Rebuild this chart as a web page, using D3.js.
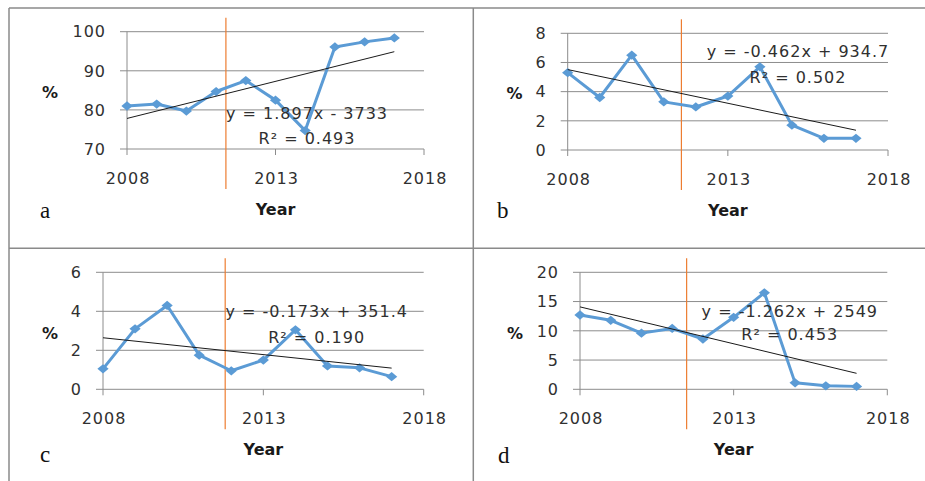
<!DOCTYPE html>
<html>
<head>
<meta charset="utf-8">
<script src="https://cdn.jsdelivr.net/npm/d3@7"></script>
<style>
  html, body { margin: 0; padding: 0; background: #fff; }
  svg { display: block; }
  .tick-label { font-family: "DejaVu Sans", sans-serif; font-size: 16px; letter-spacing: 1px; fill: #303030; }
  .eq { font-family: "DejaVu Sans", sans-serif; font-size: 16px; letter-spacing: 1px; fill: #303030; }
  .axis-title { font-family: "DejaVu Sans", sans-serif; font-size: 16px; font-weight: bold; fill: #1a1a1a; }
  .panel-letter { font-family: "Liberation Serif", "Times New Roman", serif; font-size: 23px; fill: #111; }
</style>
</head>
<body>
<svg id="chart" width="925" height="481"></svg>
<script>
// Years observed in every panel
const years = [2008, 2009, 2010, 2011, 2012, 2013, 2014, 2015, 2016, 2017];
const xTicks = [2008, 2013, 2018];

// Series values (%) per panel
const valuesA = [81.0, 81.5, 79.7, 84.7, 87.5, 82.5, 74.7, 96.1, 97.4, 98.4];
const valuesB = [5.3, 3.6, 6.5, 3.3, 2.95, 3.7, 5.7, 1.7, 0.8, 0.8];
const valuesC = [1.05, 3.1, 4.3, 1.75, 0.95, 1.5, 3.05, 1.2, 1.1, 0.65];
const valuesD = [12.7, 11.8, 9.6, 10.4, 8.6, 12.3, 16.5, 1.1, 0.6, 0.5];

// Y-axis ticks per panel
const yTicksA = [70, 80, 90, 100];
const yTicksB = [0, 2, 4, 6, 8];
const yTicksC = [0, 2, 4, 6];
const yTicksD = [0, 5, 10, 15, 20];

// Linear trend: slope and intercept as printed, with R²
const slopes = [1.897, -0.462, -0.173, -1.262];
const intercepts = ["- 3733", "+ 934.7", "+ 351.4", "+ 2549"];
const r2 = ["0.493", "0.502", "0.190", "0.453"];

// Year where the vertical marker line sits in each panel
const breakYears = [2011.33, 2011.55, 2011.81, 2011.47];

const panelLetters = ["a", "b", "c", "d"];

// Pixel layout of each panel
const layout = [
  { x0: 127, x1: 424, yBot: 149, yTop: 31.7, pctX: 50, pctY: 92, letX: 40, letY: 218, eqX: 307, eqY: 119, eqY2: 144 },
  { x0: 567.7, x1: 888, yBot: 150, yTop: 33.3, pctX: 514.5, pctY: 93, letX: 497, letY: 218, eqX: 798, eqY: 57.3, eqY2: 82.7 },
  { x0: 103, x1: 423.7, yBot: 389.3, yTop: 272.3, pctX: 50, pctY: 333, letX: 40, letY: 462, eqX: 316.7, eqY: 317.3, eqY2: 342.7 },
  { x0: 580, x1: 887.3, yBot: 389.3, yTop: 272.3, pctX: 515, pctY: 333, letX: 498, letY: 463, eqX: 789.8, eqY: 317.3, eqY2: 340 }
];

const seriesList = [valuesA, valuesB, valuesC, valuesD];
const yTickList = [yTicksA, yTicksB, yTicksC, yTicksD];

const svg = d3.select("#chart");
const gridColor = "#8c8c8c";
const blue = "#5B9BD5";
const orange = "#ED7D31";

// Outer frame dividing the four panels
const frame = svg.append("g").attr("stroke", "#8a8a8a").attr("stroke-width", 1.5).attr("fill", "none");
frame.append("line").attr("x1", 9).attr("x2", 925).attr("y1", 8).attr("y2", 8);
frame.append("line").attr("x1", 9).attr("x2", 9).attr("y1", 8).attr("y2", 481);
frame.append("line").attr("x1", 473.3).attr("x2", 473.3).attr("y1", 8).attr("y2", 481);
frame.append("line").attr("x1", 9).attr("x2", 925).attr("y1", 248.3).attr("y2", 248.3);

// Slightly wide diamond marker
const wideDiamond = {
  draw(ctx, size) {
    const w = Math.sqrt(size) * 0.75, h = Math.sqrt(size) * 0.62;
    ctx.moveTo(0, -h); ctx.lineTo(w, 0); ctx.lineTo(0, h); ctx.lineTo(-w, 0); ctx.closePath();
  }
};
const diamond = d3.symbol().type(wideDiamond).size(56);

layout.forEach((L, i) => {
  const vals = seriesList[i];
  const yt = yTickList[i];
  const x = d3.scaleLinear().domain([2008, 2018]).range([L.x0, L.x1]);
  const y = d3.scaleLinear().domain([yt[0], yt[yt.length - 1]]).range([L.yBot, L.yTop]);
  const g = svg.append("g");

  // Horizontal gridlines with left tick stubs
  g.selectAll("line.grid").data(yt).join("line")
    .attr("x1", L.x0 - 7).attr("x2", x(2018))
    .attr("y1", d => y(d)).attr("y2", d => y(d))
    .attr("stroke", gridColor).attr("stroke-width", 1);

  // Vertical value axis at 2008, reaching just below the year axis
  g.append("line")
    .attr("x1", x(2008)).attr("x2", x(2008))
    .attr("y1", y(yt[yt.length - 1])).attr("y2", L.yBot + 6)
    .attr("stroke", gridColor).attr("stroke-width", 1);

  // Year tick marks
  g.selectAll("line.xtick").data(xTicks.slice(1)).join("line")
    .attr("x1", d => x(d)).attr("x2", d => x(d))
    .attr("y1", L.yBot).attr("y2", L.yBot + 6)
    .attr("stroke", gridColor).attr("stroke-width", 1);

  // Y tick labels
  g.selectAll("text.ytl").data(yt).join("text")
    .attr("class", "tick-label")
    .attr("x", L.x0 - 21).attr("y", d => y(d)).attr("dy", "0.36em")
    .attr("text-anchor", "end")
    .text(d => d);

  // X tick labels
  g.selectAll("text.xtl").data(xTicks).join("text")
    .attr("class", "tick-label")
    .attr("x", d => x(d) + 1).attr("y", L.yBot + 35)
    .attr("text-anchor", "middle")
    .text(d => d);

  // Axis titles
  g.append("text").attr("class", "axis-title")
    .attr("x", (L.x0 + L.x1) / 2).attr("y", L.yBot + 66)
    .attr("text-anchor", "middle").text("Year");
  g.append("text").attr("class", "axis-title")
    .attr("x", L.pctX).attr("y", L.pctY).attr("dy", "0.36em")
    .attr("text-anchor", "middle").text("%");

  // Panel letter
  g.append("text").attr("class", "panel-letter")
    .attr("x", L.letX).attr("y", L.letY).text(panelLetters[i]);

  // Vertical orange marker line
  g.append("line")
    .attr("x1", x(breakYears[i])).attr("x2", x(breakYears[i]))
    .attr("y1", L.yTop - 14).attr("y2", L.yBot + 40)
    .attr("stroke", orange).attr("stroke-width", 1.2);

  // Series line and diamond markers
  const pts = years.map((yr, k) => [yr, vals[k]]);
  g.append("path").datum(pts)
    .attr("fill", "none").attr("stroke", blue).attr("stroke-width", 3)
    .attr("stroke-linejoin", "round")
    .attr("d", d3.line().x(d => x(d[0])).y(d => y(d[1])));
  g.selectAll("path.mk").data(pts).join("path")
    .attr("transform", d => `translate(${x(d[0])},${y(d[1])})`)
    .attr("d", diamond).attr("fill", blue);

  // Trend line with the printed slope, through the mean of the data
  const mx = d3.mean(years), my = d3.mean(vals);
  const trend = yr => my + slopes[i] * (yr - mx);
  g.append("line")
    .attr("x1", x(2008)).attr("y1", y(trend(2008)))
    .attr("x2", x(2017)).attr("y2", y(trend(2017)))
    .attr("stroke", "#1a1a1a").attr("stroke-width", 1);

  // Trend equation and R²
  g.append("text").attr("class", "eq")
    .attr("x", L.eqX).attr("y", L.eqY).attr("text-anchor", "middle")
    .text(`y = ${slopes[i]}x ${intercepts[i]}`);
  g.append("text").attr("class", "eq")
    .attr("x", L.eqX).attr("y", L.eqY2).attr("text-anchor", "middle")
    .text(`R² = ${r2[i]}`);
});
</script>
</body>
</html>
